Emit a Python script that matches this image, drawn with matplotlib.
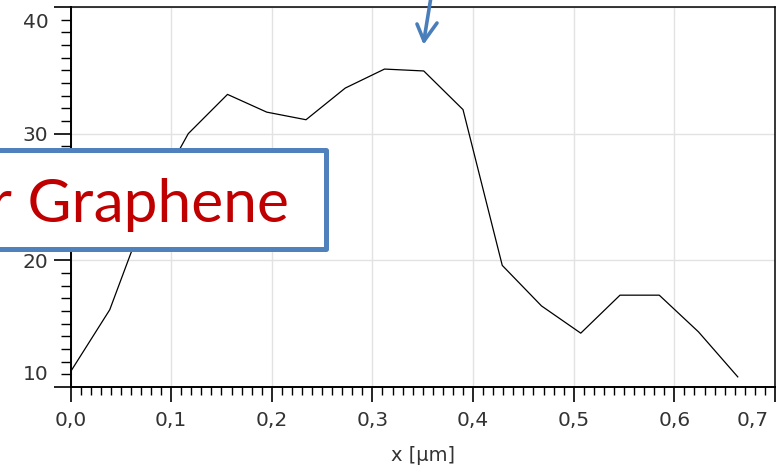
import numpy as np
import matplotlib
matplotlib.use("Agg")
import matplotlib.pyplot as plt
from matplotlib.ticker import FixedLocator, MultipleLocator, FuncFormatter
from matplotlib.transforms import ScaledTranslation
from matplotlib.patches import Rectangle
from matplotlib.lines import Line2D

# -------- Profile data --------
x_um = [0.000, 0.039, 0.078, 0.117, 0.156, 0.195, 0.234, 0.273, 0.312,
        0.351, 0.390, 0.429, 0.468, 0.507, 0.546, 0.585, 0.624, 0.663]
height = [11.2, 16.1, 24.4, 30.0, 33.1, 31.7, 31.1, 33.6, 35.1,
          34.95, 31.9, 19.6, 16.4, 14.25, 17.25, 17.25, 14.35, 10.8]

x_ticks = [0.0, 0.1, 0.2, 0.3, 0.4, 0.5, 0.6, 0.7]
y_ticks = [10, 20, 30, 40]
x_label = "x [µm]"
box_text = "r Graphene"

W, H, DPI = 779, 465, 100
fig = plt.figure(figsize=(W / DPI, H / DPI), dpi=DPI)
fig.patch.set_facecolor("white")

def fx(px):
    return px / W

def fy(py):
    # py measured from the top of the image
    return 1 - py / H

left, right, top, bottom = 70.5, 775, 7, 387
ax = fig.add_axes([fx(left), fy(bottom), fx(right - left), (bottom - top) / H])

ax.plot(x_um, height, color="black", lw=0.9)

ax.set_xlim(0, 0.7)
ax.set_ylim(10, 40)
ax.xaxis.set_major_locator(FixedLocator(x_ticks))
ax.xaxis.set_minor_locator(MultipleLocator(0.01))
ax.yaxis.set_major_locator(FixedLocator(y_ticks))
ax.yaxis.set_minor_locator(MultipleLocator(1))
ax.xaxis.set_major_formatter(FuncFormatter(lambda v, p: f"{v:.1f}".replace(".", ",")))
ax.yaxis.set_major_formatter(FuncFormatter(lambda v, p: f"{v:.0f}"))

tick_col = "#333333"
ax.tick_params(axis="x", which="major", length=11, width=1.2, pad=6,
               labelsize=14.5, labelcolor=tick_col, direction="out")
ax.tick_params(axis="x", which="minor", length=5.5, width=1.0, direction="out")
ax.tick_params(axis="y", which="major", length=12, width=1.2, pad=4,
               labelsize=14.5, labelcolor=tick_col, direction="out")
ax.tick_params(axis="y", which="minor", length=7, width=1.0, direction="out")

for s in ax.spines.values():
    s.set_color("black")
    s.set_linewidth(1.1)
ax.spines["left"].set_linewidth(1.4)
ax.spines["bottom"].set_linewidth(1.4)

ax.grid(True, which="major", color="#e2e2e2", lw=1.0)
ax.set_axisbelow(True)

ax.set_xlabel(x_label, fontsize=14, color=tick_col, labelpad=12)

# end labels pushed inward, like the original software does
fig.canvas.draw()
for lab in ax.get_yticklabels():
    if lab.get_text() == "40":
        lab.set_transform(lab.get_transform() + ScaledTranslation(0, -13 / DPI, fig.dpi_scale_trans))
    if lab.get_text() == "10":
        lab.set_transform(lab.get_transform() + ScaledTranslation(0, 15 / DPI, fig.dpi_scale_trans))
for lab in ax.get_xticklabels():
    if lab.get_text() == "0,7":
        lab.set_transform(lab.get_transform() + ScaledTranslation(-22 / DPI, 0, fig.dpi_scale_trans))

# -------- Slide overlay: text box and arrow --------
box = Rectangle((fx(-10), fy(249.5)), fx(325.5 + 10), (249.5 - 150.5) / H,
                transform=fig.transFigure, facecolor="white", edgecolor="#4f81bd",
                lw=3.6, joinstyle="round", zorder=10)
fig.add_artist(box)
fig.text(fx(289), fy(222), box_text, color="#c00000", fontsize=43.5,
         family=["Lato", "DejaVu Sans"], ha="right", va="baseline", zorder=11)

arrow_col = "#4a7ebb"
for (x0, y0), (x1, y1) in [((431, -3), (424, 40)), ((417, 24), (424, 41)), ((437, 23), (424, 41))]:
    fig.add_artist(Line2D([fx(x0), fx(x1)], [fy(y0), fy(y1)], transform=fig.transFigure,
                          color=arrow_col, lw=2.6, solid_capstyle="round", zorder=12))

fig.savefig("out.png", dpi=DPI)
